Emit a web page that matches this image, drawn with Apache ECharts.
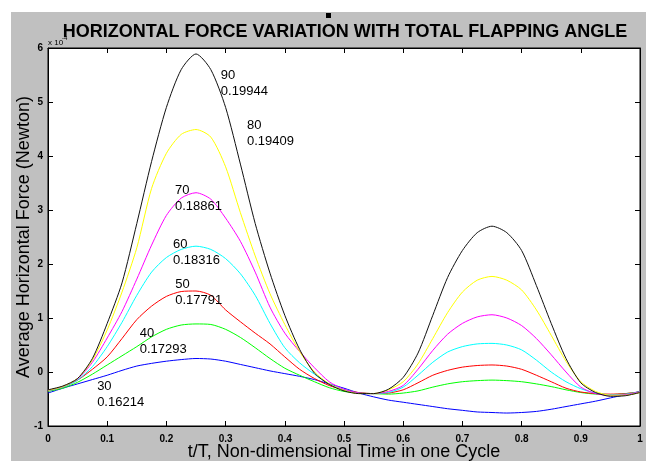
<!DOCTYPE html>
<html><head><meta charset="utf-8">
<script src="https://cdn.jsdelivr.net/npm/echarts@6/dist/echarts.min.js"></script>
<style>
html,body{margin:0;padding:0;background:#fff;}
#fig{position:absolute;left:11px;top:12px;width:635px;height:449px;background:#c0c0c0;}
#c{position:absolute;left:0;top:0;width:646px;height:461px;}
</style>
</head><body><div id="fig"></div><div id="c"></div>
<script>
// t/T sample points
const tValues = [0,0.025,0.05,0.075,0.1,0.125,0.15,0.175,0.2,0.225,0.25,0.275,0.3,0.325,0.35,0.375,0.4,0.425,0.45,0.475,0.5,
  0.525,0.55,0.575,0.6,0.625,0.65,0.675,0.7,0.725,0.75,0.775,0.8,0.825,0.85,0.875,0.9,0.925,0.95,0.975,1];

// Average horizontal force (x 10^-4 N) for each total flapping angle
const f30 = [-0.39,-0.30,-0.22,-0.14,-0.06,0.03,0.11,0.16,0.20,0.23,0.25,0.24,0.20,0.14,0.08,0.02,-0.03,-0.08,-0.14,-0.22,-0.30,
  -0.39,-0.46,-0.52,-0.56,-0.60,-0.64,-0.68,-0.71,-0.74,-0.75,-0.76,-0.75,-0.73,-0.69,-0.64,-0.59,-0.54,-0.48,-0.42,-0.36];
const f40 = [-0.36,-0.30,-0.19,-0.04,0.13,0.30,0.47,0.65,0.79,0.87,0.89,0.88,0.79,0.64,0.45,0.25,0.07,-0.06,-0.18,-0.29,-0.36,
  -0.39,-0.40,-0.41,-0.39,-0.35,-0.28,-0.22,-0.18,-0.16,-0.15,-0.16,-0.18,-0.22,-0.27,-0.33,-0.38,-0.41,-0.42,-0.40,-0.37];
const f50 = [-0.35,-0.28,-0.15,0.05,0.28,0.62,0.97,1.22,1.40,1.49,1.50,1.42,1.15,0.93,0.72,0.52,0.28,0.05,-0.12,-0.25,-0.33,
  -0.38,-0.40,-0.39,-0.33,-0.20,-0.06,0.03,0.09,0.12,0.13,0.11,0.05,-0.06,-0.18,-0.30,-0.37,-0.40,-0.41,-0.40,-0.37];
const f60 = [-0.35,-0.28,-0.15,0.10,0.47,0.92,1.42,1.85,2.12,2.27,2.33,2.27,2.10,1.82,1.42,0.90,0.45,0.17,-0.04,-0.22,-0.33,
  -0.39,-0.40,-0.38,-0.28,-0.06,0.18,0.37,0.47,0.52,0.53,0.50,0.41,0.22,0.00,-0.18,-0.31,-0.39,-0.42,-0.41,-0.37];
const f70 = [-0.34,-0.27,-0.13,0.18,0.63,1.12,1.72,2.35,2.90,3.22,3.32,3.20,2.85,2.42,1.85,1.20,0.72,0.38,0.08,-0.18,-0.32,
  -0.39,-0.40,-0.36,-0.25,0.05,0.40,0.70,0.90,1.02,1.06,1.00,0.86,0.62,0.32,0.00,-0.28,-0.40,-0.43,-0.42,-0.37];
const f80 = [-0.34,-0.27,-0.12,0.22,0.78,1.48,2.30,3.40,4.05,4.40,4.49,4.35,3.80,2.95,2.15,1.45,0.88,0.38,0.00,-0.22,-0.34,
  -0.40,-0.40,-0.33,-0.18,0.15,0.62,1.10,1.48,1.70,1.77,1.70,1.52,1.15,0.68,0.20,-0.18,-0.36,-0.43,-0.43,-0.38];
const f90 = [-0.33,-0.26,-0.12,0.25,0.90,1.65,2.75,3.90,4.90,5.60,5.89,5.60,4.90,3.85,2.75,1.83,1.05,0.42,-0.02,-0.23,-0.35,
  -0.40,-0.40,-0.32,-0.10,0.35,1.05,1.75,2.25,2.58,2.70,2.58,2.25,1.60,0.90,0.25,-0.20,-0.38,-0.45,-0.44,-0.38];

const angles = ['30','40','50','60','70','80','90'];
const effValues = ['0.16214','0.17293','0.17791','0.18316','0.18861','0.19409','0.19944'];
const forceSeries = [f30,f40,f50,f60,f70,f80,f90];

// annotation anchor (t, force) for each label block
const labelT = [0.083,0.155,0.215,0.211,0.2145,0.336,0.292];
const labelF = [-0.26,0.72,1.63,2.37,3.37,4.56,5.50];

const lineColors = ['#0000ff','#00ff00','#ff0000','#00ffff','#ff00ff','#ffff00','#111111'];
const tickFont = "'Liberation Sans Narrow','Arial Narrow','Liberation Sans',Arial,sans-serif";
const mainFont = "'Liberation Sans',Arial,sans-serif";

const chart = echarts.init(document.getElementById('c'), null, {renderer:'canvas'});

const axisCommon = {
  type:'value', min:0, max:1, interval:0.1,
  axisLine:{show:true, onZero:false, lineStyle:{color:'#000', width:1}},
  axisTick:{show:true, inside:true, length:5, lineStyle:{color:'#000'}},
  splitLine:{show:false}
};

const option = {
  animation:false,
  backgroundColor:'transparent',
  grid:{left:48, right:6, top:48, bottom:35, containLabel:false, outerBoundsMode:'none',
        show:true, backgroundColor:'#fff', borderColor:'#000', borderWidth:1},
  xAxis:[
    Object.assign({}, axisCommon, {
      position:'bottom',
      name:'t/T, Non-dimensional Time in one Cycle', nameLocation:'middle', nameGap:17, nameMoveOverlap:false,
      nameTextStyle:{fontFamily:mainFont, fontSize:18, color:'#000'},
      axisLabel:{show:true, margin:8, fontFamily:tickFont, fontSize:10, fontWeight:'bold', color:'#000',
        formatter:(v)=>String(+(+v).toFixed(1))}
    }),
    Object.assign({}, axisCommon, {position:'top', axisLabel:{show:false}})
  ],
  yAxis:[
    {
      type:'value', min:-1, max:6, interval:1, position:'left',
      axisLine:{show:true, onZero:false, lineStyle:{color:'#000', width:1}},
      axisTick:{show:true, inside:true, length:5, lineStyle:{color:'#000'}},
      splitLine:{show:false},
      name:'Average Horizontal Force (Newton)', nameLocation:'middle', nameGap:15, nameRotate:90, nameMoveOverlap:false,
      nameTextStyle:{fontFamily:mainFont, fontSize:18, color:'#000'},
      axisLabel:{show:true, margin:5, fontFamily:tickFont, fontSize:10, fontWeight:'bold', color:'#000',
        formatter:(v)=>String(Math.round(v))}
    },
    {
      type:'value', min:-1, max:6, interval:1, position:'right',
      axisLine:{show:true, onZero:false, lineStyle:{color:'#000', width:1}},
      axisTick:{show:true, inside:true, length:5, lineStyle:{color:'#000'}},
      splitLine:{show:false}, axisLabel:{show:false}
    }
  ],
  series: forceSeries.map((arr, i) => ({
    name: angles[i],
    type:'line',
    xAxisIndex:0, yAxisIndex:0,
    data: tValues.map((t, j) => [t, arr[j]]),
    showSymbol:false, smooth:0.25,
    lineStyle:{color:lineColors[i], width:1},
    itemStyle:{color:lineColors[i]},
    z: 2 + i
  }))
};
chart.setOption(option);

const graphics = [
  {type:'text', x:345, y:32, silent:true,
   style:{text:'HORIZONTAL FORCE VARIATION WITH TOTAL FLAPPING ANGLE', font:"bold 18px "+mainFont, fill:'#000', align:'center', verticalAlign:'middle'}},
  {type:'rect', shape:{x:326, y:13, width:5, height:5}, style:{fill:'#000'}, silent:true},
  {type:'text', x:48, y:43, silent:true, style:{text:'x 10', font:"8px "+mainFont, fill:'#000', align:'left', verticalAlign:'middle'}},
  {type:'text', x:62, y:38, silent:true, style:{text:'-4', font:"6px "+mainFont, fill:'#000', align:'left', verticalAlign:'middle'}}
];
angles.forEach((a, i) => {
  const p = chart.convertToPixel({gridIndex:0}, [labelT[i], labelF[i]]);
  graphics.push({type:'text', x:p[0], y:p[1]-8, silent:true, z:50,
    style:{text:a+'\n'+effValues[i], font:"13px "+mainFont, fill:'#000', lineHeight:16, align:'left', verticalAlign:'top'}});
});
chart.setOption({graphic: graphics});
</script>
</body></html>
